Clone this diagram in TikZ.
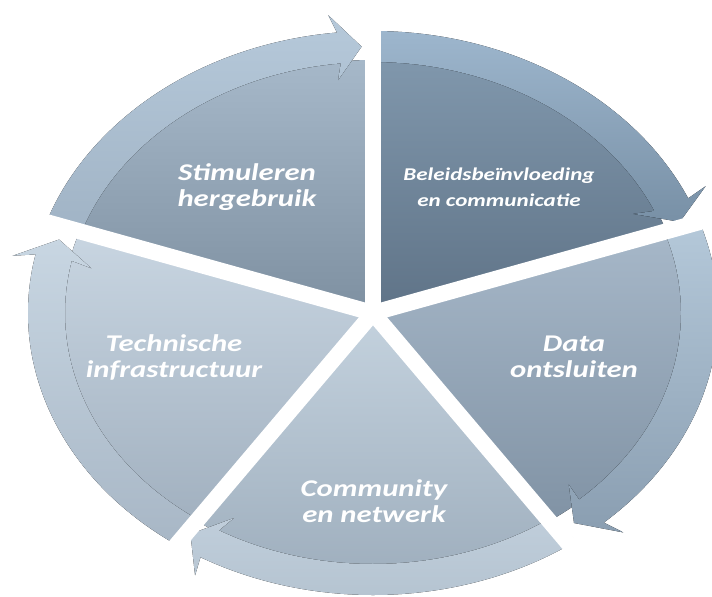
\documentclass[tikz,border=0pt]{standalone}
\usepackage{fontspec}
\usepackage{tikz}
\newfontfamily\labelfont{Carlito}[FakeStretch=1.28]

\definecolor{stimtop}{HTML}{A6B8C9}
\definecolor{stimbot}{HTML}{7E90A1}
\definecolor{stimbandtop}{HTML}{B6C9DA}
\definecolor{stimbandbot}{HTML}{A0B3C5}
\definecolor{beltop}{HTML}{8097AC}
\definecolor{belbot}{HTML}{5F7387}
\definecolor{belbandtop}{HTML}{9DB6CD}
\definecolor{belbandbot}{HTML}{7890A6}
\definecolor{datatop}{HTML}{A6B7C8}
\definecolor{databot}{HTML}{8193A5}
\definecolor{databandtop}{HTML}{B4C8D9}
\definecolor{databandbot}{HTML}{8A9EB1}
\definecolor{comtop}{HTML}{C4D2DE}
\definecolor{combot}{HTML}{9EAEBD}
\definecolor{combandtop}{HTML}{C0CEDB}
\definecolor{combandbot}{HTML}{B3C2CF}
\definecolor{techtop}{HTML}{C8D5E1}
\definecolor{techbot}{HTML}{A2B1C0}
\definecolor{techbandtop}{HTML}{C8D6E2}
\definecolor{techbandbot}{HTML}{A8B7C6}

\begin{document}
\begin{tikzpicture}[x=0.5pt, y=0.5pt,
    phase/.style={text=white, align=center, font=\labelfont\bfseries\itshape\fontsize{12}{13}\selectfont},
    gapline/.style={white, line width=8pt}]
  \useasboundingbox (0,0) rectangle (712,596);
  \begin{scope}[shift={(373,283)}]
    % Stimuleren hergebruik
    \fill[top color=stimtop, bottom color=stimbot] (0,0) -- (162:310 and 253)
      arc[start angle=162, end angle=90, x radius=310, y radius=253] -- cycle;
    \fill[top color=stimbandtop, bottom color=stimbandbot] (162:345 and 282)
      arc[start angle=162, end angle=96, x radius=345, y radius=282]
      -- (97:367 and 300) -- (92:326.5 and 266.5) -- (97:287 and 234.5) -- (96:308 and 251)
      arc[start angle=96, end angle=162, x radius=308, y radius=251] -- cycle;
    % Beleidsbeinvloeding
    \fill[top color=beltop, bottom color=belbot] (0,0) -- (90:310 and 253)
      arc[start angle=90, end angle=18, x radius=310, y radius=253] -- cycle;
    \fill[top color=belbandtop, bottom color=belbandbot] (90:345 and 282)
      arc[start angle=90, end angle=24, x radius=345, y radius=282]
      -- (25:367 and 300) -- (20:326.5 and 266.5) -- (25:287 and 234.5) -- (24:308 and 251)
      arc[start angle=24, end angle=90, x radius=308, y radius=251] -- cycle;
    % Data ontsluiten
    \fill[top color=datatop, bottom color=databot] (0,0) -- (18:310 and 253)
      arc[start angle=18, end angle=-54, x radius=310, y radius=253] -- cycle;
    \fill[top color=databandtop, bottom color=databandbot] (18:345 and 282)
      arc[start angle=18, end angle=-48, x radius=345, y radius=282]
      -- (-47:367 and 300) -- (-52:326.5 and 266.5) -- (-47:287 and 234.5) -- (-48:308 and 251)
      arc[start angle=-48, end angle=18, x radius=308, y radius=251] -- cycle;
    % Community en netwerk
    \fill[top color=comtop, bottom color=combot] (0,0) -- (-54:310 and 253)
      arc[start angle=-54, end angle=-126, x radius=310, y radius=253] -- cycle;
    \fill[top color=combandtop, bottom color=combandbot] (-54:345 and 282)
      arc[start angle=-54, end angle=-120, x radius=345, y radius=282]
      -- (-119:367 and 300) -- (-124:326.5 and 266.5) -- (-119:287 and 234.5) -- (-120:308 and 251)
      arc[start angle=-120, end angle=-54, x radius=308, y radius=251] -- cycle;
    % Technische infrastructuur
    \fill[top color=techtop, bottom color=techbot] (0,0) -- (234:310 and 253)
      arc[start angle=234, end angle=162, x radius=310, y radius=253] -- cycle;
    \fill[top color=techbandtop, bottom color=techbandbot] (234:345 and 282)
      arc[start angle=234, end angle=168, x radius=345, y radius=282]
      -- (169:367 and 300) -- (164:326.5 and 266.5) -- (169:287 and 234.5) -- (168:308 and 251)
      arc[start angle=168, end angle=234, x radius=308, y radius=251] -- cycle;
    % gaps between the pieces
    \draw[gapline] (0,0) -- (90:420 and 360);
    \draw[gapline] (0,0) -- (18:420 and 360);
    \draw[gapline] (0,0) -- (-54:420 and 360);
    \draw[gapline] (0,0) -- (-126:420 and 360);
    \draw[gapline] (0,0) -- (162:420 and 360);
  \end{scope}
  \node[phase] (stim) at (247,409) {Stimuleren\\hergebruik};
  \node[phase, font=\labelfont\bfseries\itshape\fontsize{9}{13}\selectfont] (beleid) at (499,409) {Beleidsbeïnvloeding\\en communicatie};
  \node[phase] (data) at (574,239) {Data\\ontsluiten};
  \node[phase] (comm) at (374,95) {Community\\en netwerk};
  \node[phase] (tech) at (174,239) {Technische\\infrastructuur};
\end{tikzpicture}
\end{document}
